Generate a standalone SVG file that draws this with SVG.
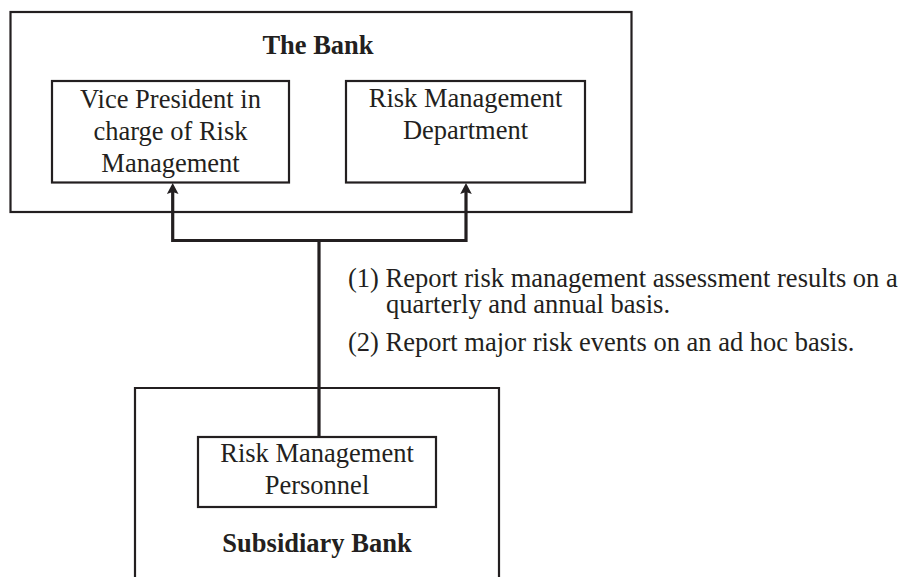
<svg xmlns="http://www.w3.org/2000/svg" width="903" height="577" viewBox="0 0 903 577">
<defs>
<style>
.box{fill:none;stroke:#231f20;stroke-width:2.2}
.t{font-family:"Liberation Serif","Times New Roman",serif;font-size:26.5px;fill:#231f20}
.c{text-anchor:middle}
.b{font-weight:bold}
.conn{fill:none;stroke:#231f20;stroke-width:3.2;stroke-linejoin:miter}
.ah{fill:#231f20}
</style>
</defs>
<rect width="903" height="577" fill="#ffffff"/>
<g id="the-bank">
<rect class="box" x="10.5" y="12" width="621" height="200"/>
<text class="t b c" x="318" y="54">The Bank</text>
</g>
<g id="vice-president">
<rect class="box" x="52" y="81" width="237" height="101.5"/>
<text class="t c" x="170.5" y="107.5">Vice President in</text>
<text class="t c" x="170.5" y="140">charge of Risk</text>
<text class="t c" x="170.5" y="172">Management</text>
</g>
<g id="risk-dept">
<rect class="box" x="346" y="81" width="239" height="101.5"/>
<text class="t c" x="465.5" y="107">Risk Management</text>
<text class="t c" x="465.5" y="139">Department</text>
</g>
<g id="subsidiary-bank">
<path class="box" d="M135 578 V388 H499 V578"/>
<text class="t b c" x="317" y="552">Subsidiary Bank</text>
</g>
<g id="risk-personnel">
<rect class="box" x="198" y="437" width="238" height="70"/>
<text class="t c" x="317" y="462">Risk Management</text>
<text class="t c" x="317" y="494">Personnel</text>
</g>
<g id="connectors">
<path class="conn" d="M172.7 192 V240.5 H466 V192"/>
<path class="conn" d="M319 240.5 V437"/>
<path class="ah" d="M172.7 183 L178.5 194 L172.7 192 L166.9 194 Z"/>
<path class="ah" d="M466 183 L471.8 194 L466 192 L460.2 194 Z"/>
</g>
<g id="annotation">
<text class="t" x="348" y="287">(1) Report risk management assessment results on a</text>
<text class="t" x="386" y="313">quarterly and annual basis.</text>
<text class="t" x="348" y="351">(2) Report major risk events on an ad hoc basis.</text>
</g>
</svg>
